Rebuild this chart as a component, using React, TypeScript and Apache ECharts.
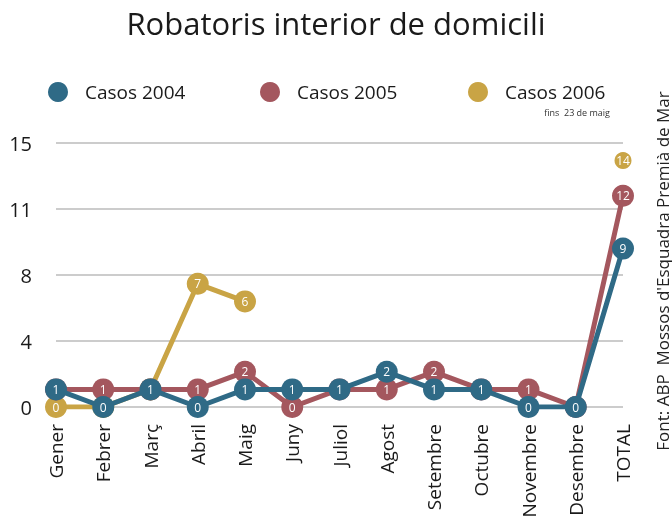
import React, { useEffect, useRef } from "react";
import * as echarts from "echarts";

const categories = ["Gener", "Febrer", "Març", "Abril", "Maig", "Juny", "Juliol", "Agost", "Setembre", "Octubre", "Novembre", "Desembre", "TOTAL"];
const casos2004 = [1, 0, 1, 0, 1, 1, 1, 2, 1, 1, 0, 0, 9];
const casos2005 = [1, 1, 1, 1, 2, 0, 1, 1, 2, 1, 1, 0, 12];
const casos2006 = [0, 0, 1, 7, 6, null, null, null, null, null, null, null, 14];
const seriesNames = ["Casos 2004", "Casos 2005", "Casos 2006"];
const colors = ["#2f6a86", "#a4575e", "#c9a445"];
const FONT = "'Open Sans', Lato, sans-serif";

export default function App() {
  const ref = useRef<HTMLDivElement>(null);
  useEffect(() => {
    if (!ref.current) return;
    const chart = echarts.init(ref.current, null, { renderer: "svg" });
    const datasets = [casos2004, casos2005, casos2006];
    const legendLefts = [46, 258, 466];
    chart.setOption({
      animation: false,
      textStyle: { fontFamily: FONT },
      title: {
        text: "Robatoris interior de domicili",
        left: "center",
        top: 2,
        textStyle: { fontSize: 31, fontWeight: "normal", color: "#1a1a1a", fontFamily: FONT },
      },
      legend: seriesNames.map((n, i) => ({
        data: [n],
        left: legendLefts[i],
        top: 80,
        padding: 2,
        icon: "circle",
        itemWidth: 20,
        itemHeight: 20,
        textStyle: { fontSize: 19, lineHeight: 20, color: "#1a1a1a", padding: [0, 0, 0, 12], fontFamily: FONT },
      })),
      graphic: [
        {
          type: "text",
          right: 62,
          top: 108,
          style: { text: "fins  23 de maig", fontSize: 9, fill: "#333", fontFamily: FONT },
        },
        {
          type: "text",
          x: 662,
          y: 271,
          rotation: Math.PI / 2,
          style: {
            text: "Font: ABP  Mossos d'Esquadra Premià de Mar",
            fontSize: 17,
            fill: "#222",
            align: "center",
            verticalAlign: "middle",
            fontFamily: FONT,
          },
        },
      ],
      grid: { left: 56, right: 49, top: 143, bottom: 115, containLabel: false },
      xAxis: {
        type: "category",
        data: categories,
        boundaryGap: false,
        axisLine: { show: false },
        axisTick: { show: false },
        axisLabel: { rotate: 90, fontSize: 19, color: "#1a1a1a", margin: 17, interval: 0, fontFamily: FONT },
      },
      yAxis: {
        type: "value",
        min: 0,
        max: 15,
        interval: 3.75,
        axisLine: { show: false },
        axisTick: { show: false },
        axisLabel: {
          fontSize: 20,
          color: "#1a1a1a",
          margin: 24,
          fontFamily: FONT,
          formatter: (v: number) => String(Math.round(v)),
        },
        splitLine: { lineStyle: { color: "#cccccc", width: 2 } },
      },
      series: datasets.map((d, i) => ({
        name: seriesNames[i],
        type: "line",
        data: d,
        z: i === 0 ? 5 : i === 1 ? 4 : 3,
        symbol: "circle",
        symbolSize: (_v: any, p: any) => (i === 2 && p.dataIndex === 12 ? 17 : 22),
        connectNulls: false,
        itemStyle: { color: colors[i] },
        lineStyle: { color: colors[i], width: 5 },
        label: {
          show: true,
          position: "inside",
          color: "#fff",
          fontSize: 12,
          fontFamily: FONT,
        },
      })),
    });
    return () => chart.dispose();
  }, []);
  return <div ref={ref} style={{ position: "fixed", left: 0, top: 0, width: 672, height: 522 }} />;
}
